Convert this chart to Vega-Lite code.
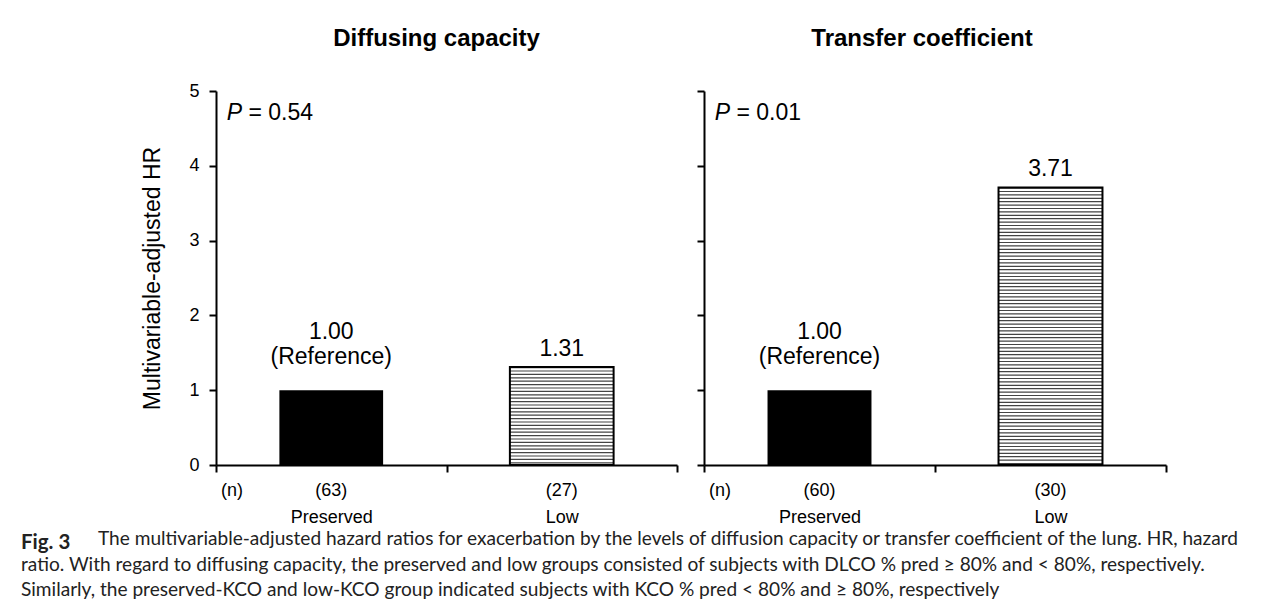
{
  "$schema": "https://vega.github.io/schema/vega-lite/v6.json",
  "padding": {"left": 20, "top": 27, "right": 0, "bottom": 0},
  "background": "white",
  "datasets": {
    "bars": [
      {"panel": "Diffusing capacity", "group": "Preserved", "hr": 1.00, "n": "(63)", "note": "(Reference)"},
      {"panel": "Diffusing capacity", "group": "Low", "hr": 1.31, "n": "(27)", "note": ""},
      {"panel": "Transfer coefficient", "group": "Preserved", "hr": 1.00, "n": "(60)", "note": "(Reference)"},
      {"panel": "Transfer coefficient", "group": "Low", "hr": 3.71, "n": "(30)", "note": ""}
    ],
    "pvals": [
      {"panel": "Diffusing capacity", "p": 0.54},
      {"panel": "Transfer coefficient", "p": 0.01}
    ]
  },
  "config": {
    "font": "Liberation Sans",
    "view": {"stroke": null},
    "axis": {"domainColor": "black", "domainWidth": 2, "tickColor": "black", "tickWidth": 2, "tickSize": 7, "labelColor": "black", "titleColor": "black", "labelFont": "Liberation Sans", "titleFont": "Liberation Sans", "grid": false},
    "title": {"font": "Liberation Sans", "color": "black"},
    "text": {"font": "Liberation Sans", "color": "black"}
  },
  "title": {"text": "Fig. 3", "orient": "bottom", "anchor": "start", "font": "Lato", "fontWeight": "bold", "fontSize": 20.5, "color": "#222", "offset": 0, "dx": 0, "dy": -67},
  "vconcat": [
    {
      "title": {
        "text": [
          "ratio. With regard to diffusing capacity, the preserved and low groups consisted of subjects with DLCO % pred ≥ 80% and < 80%, respectively.",
          "Similarly, the preserved-KCO and low-KCO group indicated subjects with KCO % pred < 80% and ≥ 80%, respectively"
        ],
        "orient": "bottom", "anchor": "start", "font": "Lato", "fontWeight": "normal", "fontSize": 19.1, "lineHeight": 25.5, "color": "#222", "offset": 6.4, "dx": -77
      },
      "vconcat": [
        {
          "spacing": 18,
          "title": {
            "text": "The multivariable-adjusted hazard ratios for exacerbation by the levels of diffusion capacity or transfer coefficient of the lung. HR, hazard",
            "orient": "bottom", "anchor": "start", "font": "Lato", "fontWeight": "normal", "fontSize": 19.1, "lineHeight": 25.5, "color": "#222", "offset": 4, "dx": -44
          },
          "hconcat": [
            {
              "width": 461, "height": 374,
              "title": {"text": "Diffusing capacity", "fontSize": 24, "fontWeight": "bold", "anchor": "middle", "frame": "group", "dx": -10, "offset": 31},
              "data": {"name": "bars"},
              "transform": [{"filter": "datum.panel === 'Diffusing capacity'"}],
              "encoding": {
                "x": {"field": "group", "type": "nominal", "sort": ["Preserved", "Low"], "scale": {"paddingInner": 0, "paddingOuter": 0},
                      "axis": {"title": null, "labelAngle": 0, "labelFontSize": 18, "labelPadding": 36, "tickBand": "extent"}},
                "y": {"field": "hr", "type": "quantitative", "scale": {"domain": [0, 5]},
                      "axis": {"values": [0, 1, 2, 3, 4, 5], "labelFontSize": 18, "labelPadding": 10, "title": "Multivariable-adjusted HR", "titleFontSize": 23, "titleFontWeight": "normal", "titlePadding": 24}}
              },
              "layer": [
                {"transform": [{"filter": "datum.group === 'Preserved'"}], "mark": {"type": "bar", "color": "black", "width": {"band": 0.45}}},
                {"transform": [{"filter": "datum.group === 'Low'"}], "mark": {"type": "rule", "strokeWidth": 103.7, "strokeDash": [1.2, 2.2], "color": "#444", "strokeCap": "butt"}, "encoding": {"y2": {"datum": 0}}},
                {"transform": [{"filter": "datum.group === 'Low'"}], "mark": {"type": "bar", "fill": "transparent", "stroke": "black", "strokeWidth": 2, "width": {"band": 0.45}}},
                {"transform": [{"filter": "datum.group === 'Low'"}], "mark": {"type": "text", "fontSize": 23, "baseline": "alphabetic", "dy": -11}, "encoding": {"text": {"field": "hr", "type": "quantitative", "format": ".2f"}}},
                {"transform": [{"filter": "datum.group === 'Preserved'"}], "mark": {"type": "text", "fontSize": 23, "baseline": "alphabetic", "dy": -51}, "encoding": {"text": {"field": "hr", "type": "quantitative", "format": ".2f"}}},
                {"transform": [{"filter": "datum.note !== ''"}], "mark": {"type": "text", "fontSize": 23, "baseline": "alphabetic", "dy": -26}, "encoding": {"text": {"field": "note", "type": "nominal"}}},
                {"mark": {"type": "text", "fontSize": 18, "baseline": "middle", "dy": 26}, "encoding": {"y": {"datum": 0}, "text": {"field": "n", "type": "nominal"}}},
                {"transform": [{"filter": "datum.group === 'Preserved'"}], "mark": {"type": "text", "text": "(n)", "fontSize": 18, "align": "left", "baseline": "middle", "dx": 5, "dy": 26}, "encoding": {"x": {"field": "group", "type": "nominal", "bandPosition": 0}, "y": {"datum": 0}}},
                {"transform": [{"filter": "datum.group === 'Preserved'"}], "mark": {"type": "text", "text": "P", "fontStyle": "italic", "fontSize": 23, "align": "left", "baseline": "alphabetic", "dx": 10.7, "dy": 29}, "encoding": {"x": {"field": "group", "type": "nominal", "bandPosition": 0}, "y": {"datum": 5}}},
                {"transform": [{"filter": "datum.group === 'Preserved'"}], "mark": {"type": "text", "text": "=", "fontSize": 23, "align": "left", "baseline": "alphabetic", "dx": 32.4, "dy": 29}, "encoding": {"x": {"field": "group", "type": "nominal", "bandPosition": 0}, "y": {"datum": 5}}},
                {"transform": [{"filter": "datum.group === 'Preserved'"}, {"lookup": "panel", "from": {"data": {"name": "pvals"}, "key": "panel", "fields": ["p"]}}], "mark": {"type": "text", "fontSize": 23, "align": "left", "baseline": "alphabetic", "dx": 52.2, "dy": 29}, "encoding": {"x": {"field": "group", "type": "nominal", "bandPosition": 0}, "y": {"datum": 5}, "text": {"field": "p", "type": "quantitative", "format": ".2f"}}}
              ]
            },
            {
              "width": 462, "height": 374,
              "title": {"text": "Transfer coefficient", "fontSize": 24, "fontWeight": "bold", "anchor": "middle", "frame": "group", "dx": -13, "offset": 39},
              "data": {"name": "bars"},
              "transform": [{"filter": "datum.panel === 'Transfer coefficient'"}],
              "encoding": {
                "x": {"field": "group", "type": "nominal", "sort": ["Preserved", "Low"], "scale": {"paddingInner": 0, "paddingOuter": 0},
                      "axis": {"title": null, "labelAngle": 0, "labelFontSize": 18, "labelPadding": 36, "tickBand": "extent"}},
                "y": {"field": "hr", "type": "quantitative", "scale": {"domain": [0, 5]},
                      "axis": {"values": [0, 1, 2, 3, 4, 5], "labels": false, "title": null}}
              },
              "layer": [
                {"transform": [{"filter": "datum.group === 'Preserved'"}], "mark": {"type": "bar", "color": "black", "width": {"band": 0.45}}},
                {"transform": [{"filter": "datum.group === 'Low'"}], "mark": {"type": "rule", "strokeWidth": 103.7, "strokeDash": [1.2, 2.2], "color": "#444", "strokeCap": "butt"}, "encoding": {"y2": {"datum": 0}}},
                {"transform": [{"filter": "datum.group === 'Low'"}], "mark": {"type": "bar", "fill": "transparent", "stroke": "black", "strokeWidth": 2, "width": {"band": 0.45}}},
                {"transform": [{"filter": "datum.group === 'Low'"}], "mark": {"type": "text", "fontSize": 23, "baseline": "alphabetic", "dy": -11}, "encoding": {"text": {"field": "hr", "type": "quantitative", "format": ".2f"}}},
                {"transform": [{"filter": "datum.group === 'Preserved'"}], "mark": {"type": "text", "fontSize": 23, "baseline": "alphabetic", "dy": -51}, "encoding": {"text": {"field": "hr", "type": "quantitative", "format": ".2f"}}},
                {"transform": [{"filter": "datum.note !== ''"}], "mark": {"type": "text", "fontSize": 23, "baseline": "alphabetic", "dy": -26}, "encoding": {"text": {"field": "note", "type": "nominal"}}},
                {"mark": {"type": "text", "fontSize": 18, "baseline": "middle", "dy": 26}, "encoding": {"y": {"datum": 0}, "text": {"field": "n", "type": "nominal"}}},
                {"transform": [{"filter": "datum.group === 'Preserved'"}], "mark": {"type": "text", "text": "(n)", "fontSize": 18, "align": "left", "baseline": "middle", "dx": 5, "dy": 26}, "encoding": {"x": {"field": "group", "type": "nominal", "bandPosition": 0}, "y": {"datum": 0}}},
                {"transform": [{"filter": "datum.group === 'Preserved'"}], "mark": {"type": "text", "text": "P", "fontStyle": "italic", "fontSize": 23, "align": "left", "baseline": "alphabetic", "dx": 10.7, "dy": 29}, "encoding": {"x": {"field": "group", "type": "nominal", "bandPosition": 0}, "y": {"datum": 5}}},
                {"transform": [{"filter": "datum.group === 'Preserved'"}], "mark": {"type": "text", "text": "=", "fontSize": 23, "align": "left", "baseline": "alphabetic", "dx": 32.4, "dy": 29}, "encoding": {"x": {"field": "group", "type": "nominal", "bandPosition": 0}, "y": {"datum": 5}}},
                {"transform": [{"filter": "datum.group === 'Preserved'"}, {"lookup": "panel", "from": {"data": {"name": "pvals"}, "key": "panel", "fields": ["p"]}}], "mark": {"type": "text", "fontSize": 23, "align": "left", "baseline": "alphabetic", "dx": 52.2, "dy": 29}, "encoding": {"x": {"field": "group", "type": "nominal", "bandPosition": 0}, "y": {"datum": 5}, "text": {"field": "p", "type": "quantitative", "format": ".2f"}}}
              ]
            }
          ]
        }
      ]
    }
  ]
}
